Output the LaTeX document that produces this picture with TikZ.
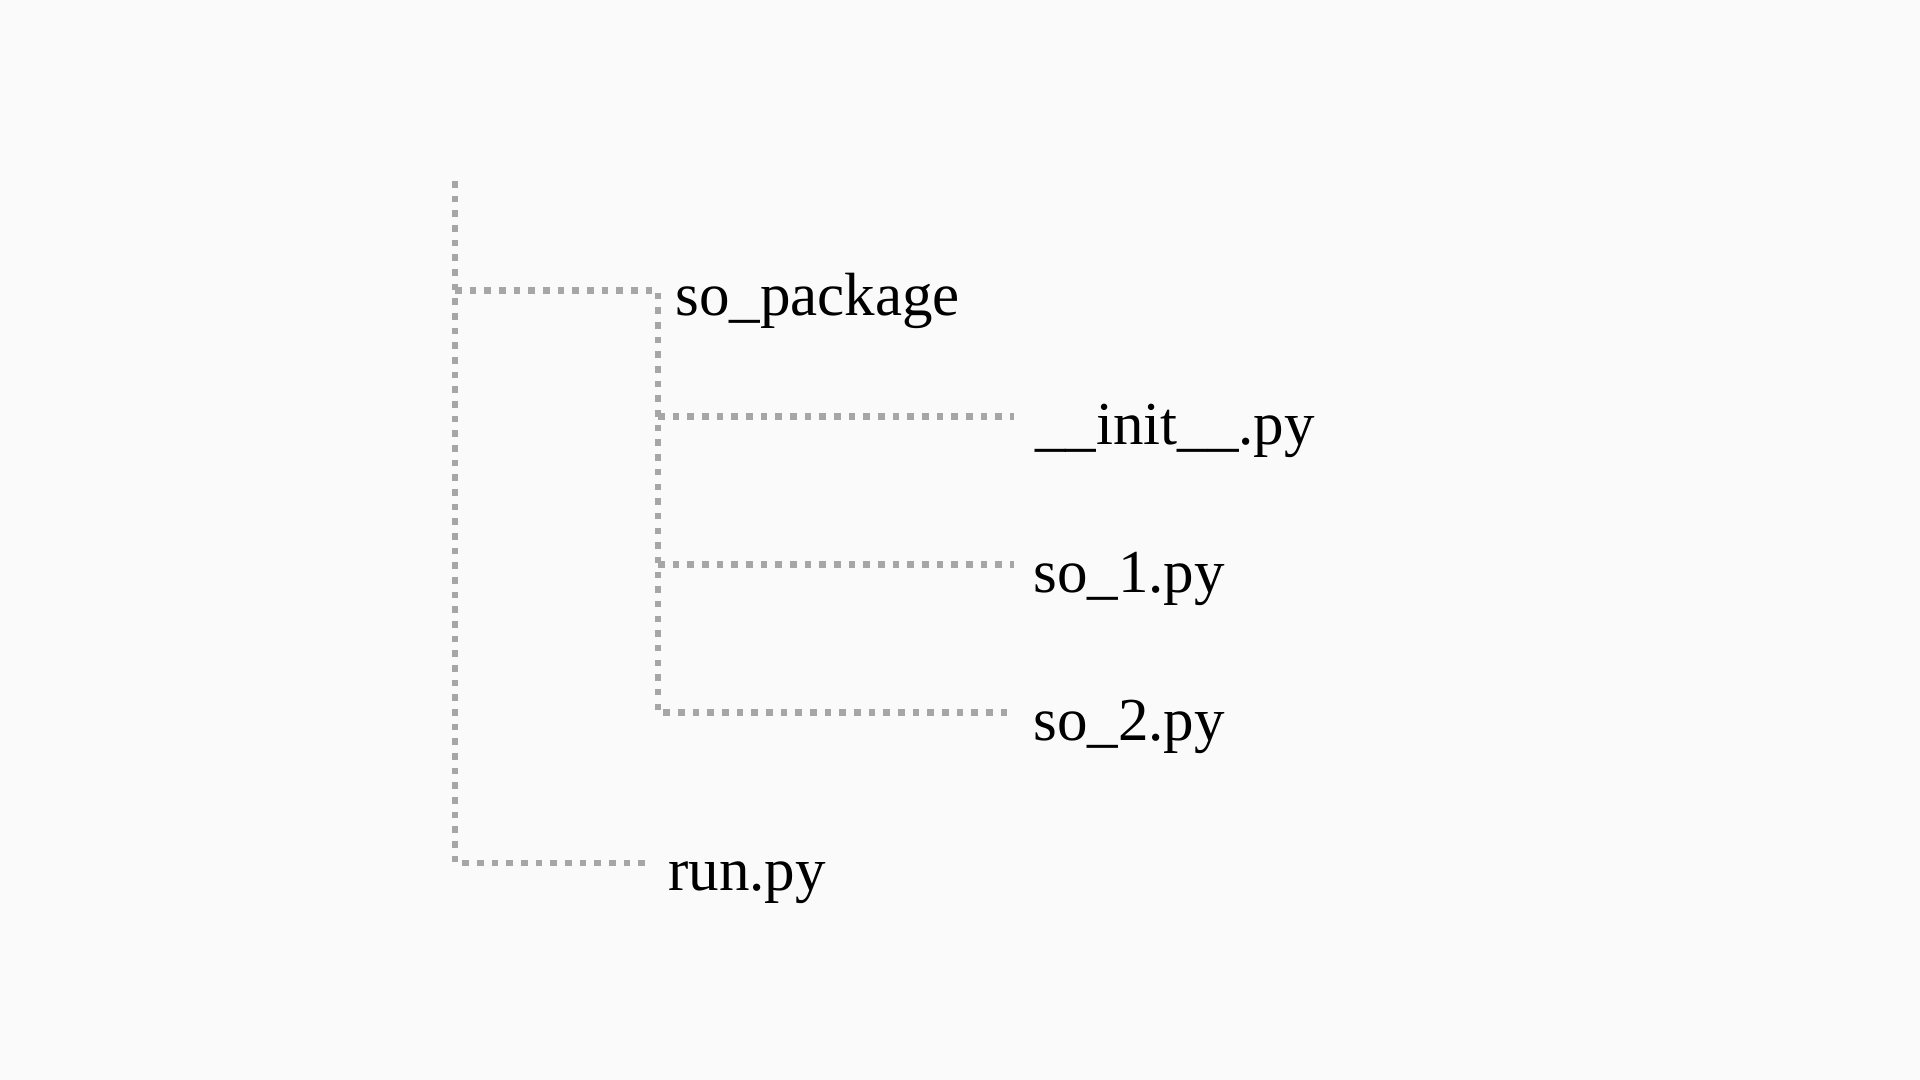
\documentclass[tikz,border=0pt]{standalone}
\usepackage{fontspec}
\setmainfont{Liberation Serif}
\definecolor{bgc}{HTML}{FAFAFA}
\definecolor{linec}{HTML}{A6A6A6}
\tikzset{
  treeline/.style={draw=linec, line width=4.9pt, dash pattern=on 4.9pt off 6.1pt},
  fname/.style={anchor=base west, inner sep=0pt, font=\fontsize{45.75pt}{50pt}\selectfont, text=black}
}
\begin{document}
\begin{tikzpicture}[x=0.75pt, y=-0.75pt]
\fill[bgc] (0,0) rectangle (1920,1080);
\useasboundingbox (0,0) rectangle (1920,1080);
% nodes
\node[fname] (pkg) at (675,316) {so\_package};
\node[fname] (init) at (1035,444.3) {\_\_init\_\_.py};
\node[fname] (so1) at (1033,592.5) {so\_1.py};
\node[fname] (so2) at (1033,740.7) {so\_2.py};
\node[fname] (run) at (668,890) {run.py};
% coordinates
\coordinate (top) at (455,181);
\coordinate (jpkg) at (455,290.5);
\coordinate (jrun) at (455,863);
\coordinate (epkg) at (658,290.5);
\coordinate (erun) at (649,863);
\coordinate (binit) at (658,416.3);
\coordinate (bso1) at (658,564.5);
\coordinate (bso2) at (658,712.7);
\coordinate (einit) at (1014,416.3);
\coordinate (eso1) at (1014,564.5);
\coordinate (eso2) at (1014,712.7);
% connectors
\draw[treeline] (top) -- (jrun) -- (erun);
\draw[treeline] (jpkg) -- (epkg) -- (bso2) -- (eso2);
\draw[treeline] (binit) -- (einit);
\draw[treeline] (bso1) -- (eso1);
\end{tikzpicture}
\end{document}
